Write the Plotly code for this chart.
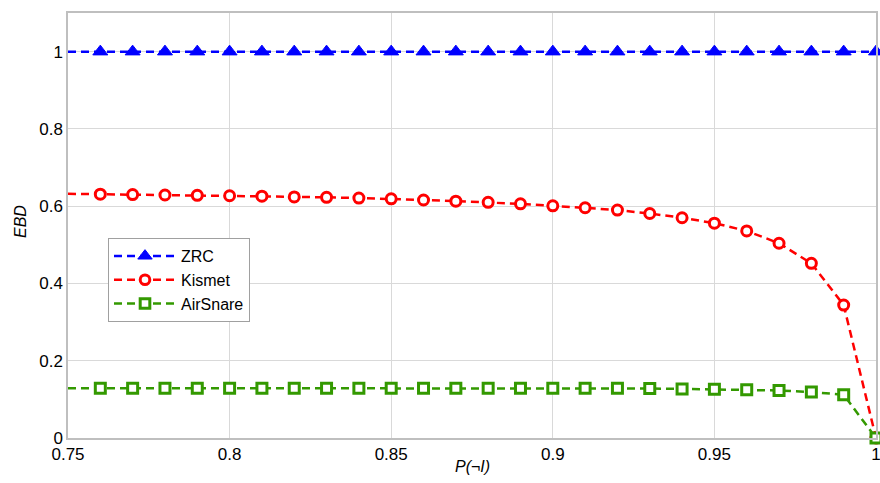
import plotly.graph_objects as go

x_vals = [0.75, 0.76, 0.77, 0.78, 0.79, 0.80, 0.81, 0.82, 0.83, 0.84, 0.85, 0.86, 0.87,
          0.88, 0.89, 0.90, 0.91, 0.92, 0.93, 0.94, 0.95, 0.96, 0.97, 0.98, 0.99, 1.00]
zrc = [1.0] * 26
kismet = [0.632, 0.631, 0.630, 0.629, 0.628, 0.627, 0.626, 0.624, 0.623, 0.621, 0.619,
          0.616, 0.613, 0.610, 0.606, 0.601, 0.596, 0.590, 0.581, 0.570, 0.556, 0.536,
          0.504, 0.452, 0.344, 0.0]
airsnare = [0.129, 0.129, 0.129, 0.129, 0.129, 0.129, 0.129, 0.129, 0.129, 0.129, 0.129,
            0.129, 0.129, 0.129, 0.129, 0.129, 0.129, 0.129, 0.128, 0.127, 0.126, 0.125,
            0.123, 0.119, 0.112, 0.0]
x_ticks = [0.75, 0.8, 0.85, 0.9, 0.95, 1.0]
x_ticklabels = ["0.75", "0.8", "0.85", "0.9", "0.95", "1"]
y_ticks = [0, 0.2, 0.4, 0.6, 0.8, 1.0]
y_ticklabels = ["0", "0.2", "0.4", "0.6", "0.8", "1"]

series = [
    ("ZRC", zrc, "#0000ff", "triangle-up", 13, "#0000ff", 1),
    ("Kismet", kismet, "#ff0000", "circle", 10, "white", 3),
    ("AirSnare", airsnare, "#339900", "square", 10, "white", 3),
]

fig = go.Figure()
for name, ys, col, sym, sz, fill, lw in series:
    # no marker drawn at the first x (0.75), as in the reference
    sizes = [0] + [sz] * (len(ys) - 1)
    fig.add_trace(go.Scatter(
        x=x_vals, y=ys, mode="lines+markers", name=name,
        line=dict(color=col, width=2.5, dash="8px,5px"),
        marker=dict(symbol=sym, size=sizes, color=fill, opacity=1,
                    line=dict(color=col, width=lw)),
        cliponaxis=False))

W, H = 880, 483
L, R, T, B = 68, 4, 13, 45
plot_w = W - L - R
plot_h = H - T - B

font = "Liberation Sans, Arial, sans-serif"
fig.update_layout(
    width=W, height=H,
    margin=dict(l=L, r=R, t=T, b=B, autoexpand=False),
    paper_bgcolor="white", plot_bgcolor="white",
    font=dict(family=font, size=17, color="black"),
    showlegend=True,
    legend=dict(x=(108 - L) / plot_w, y=(438 - 280) / plot_h,
                xanchor="left", yanchor="middle",
                bordercolor="#a0a0a0", borderwidth=1, bgcolor="white",
                font=dict(size=16), tracegroupgap=0, itemwidth=62),
    xaxis=dict(range=[0.75, 1.0], tickvals=x_ticks, ticktext=x_ticklabels,
               showgrid=True, gridcolor="#d9d9d9", gridwidth=1,
               showline=True, linecolor="#bfbfbf", linewidth=1.5, mirror=True,
               zeroline=False, ticks="", automargin=False, tickfont=dict(size=17),
               ticklabeloverflow="allow"),
    yaxis=dict(range=[0, 1.1], tickvals=y_ticks, ticktext=y_ticklabels,
               showgrid=True, gridcolor="#d9d9d9", gridwidth=1,
               showline=True, linecolor="#bfbfbf", linewidth=1.5, mirror=True,
               zeroline=False, ticks="", automargin=False, tickfont=dict(size=17),
               ticklabeloverflow="allow"),
)
fig.add_annotation(text="<i>P(¬I)</i>", xref="paper", yref="paper",
                   x=(472 - L) / plot_w, y=(438 - 466) / plot_h,
                   xanchor="center", yanchor="middle", showarrow=False,
                   font=dict(size=16))
fig.add_annotation(text="<i>EBD</i>", xref="paper", yref="paper",
                   x=(20 - L) / plot_w, y=(438 - 222) / plot_h,
                   xanchor="center", yanchor="middle", showarrow=False,
                   textangle=-90, font=dict(size=16))

fig.write_html("out.html", config={"displayModeBar": False},
               post_script="document.body.style.margin='0';")
